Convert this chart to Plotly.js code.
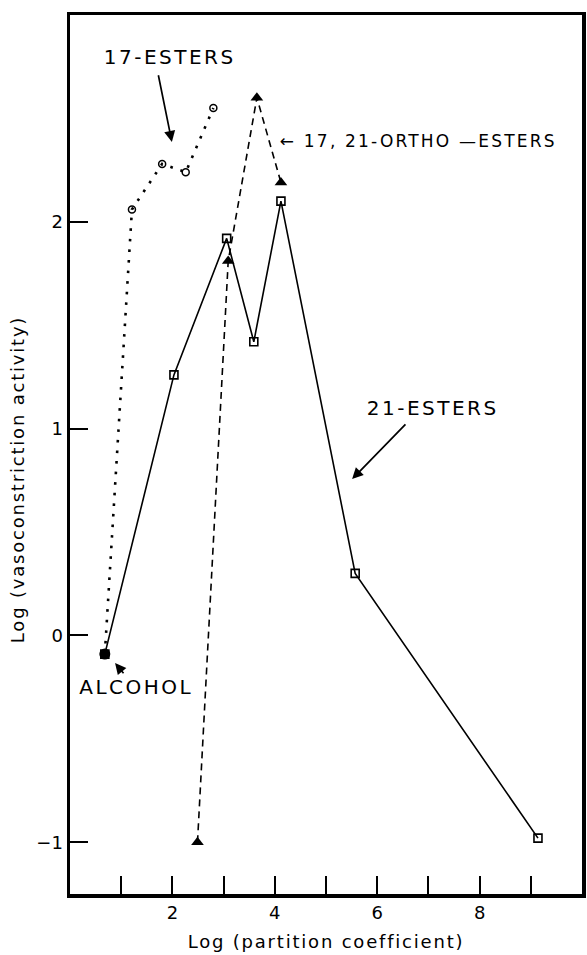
<!DOCTYPE html>
<html>
<head>
<meta charset="utf-8">
<script src="https://cdn.plot.ly/plotly-3.0.1.min.js"></script>
<style>
  html, body { margin: 0; padding: 0; background: #fff; }
  #chart { width: 587px; height: 955px; }
</style>
</head>
<body>
<div id="chart"></div>
<script>
// ---- data ----
const xEsters21 = [0.68, 2.03, 3.06, 3.59, 4.12, 5.57, 9.14];
const yEsters21 = [-0.09, 1.26, 1.92, 1.42, 2.10, 0.30, -0.98];

const xEsters17 = [0.68, 1.21, 1.80, 2.26, 2.80];
const yEsters17 = [-0.09, 2.06, 2.28, 2.24, 2.55];

const xOrtho = [2.49, 3.09, 3.65, 4.12];
const yOrtho = [-1.00, 1.81, 2.60, 2.19];

const xAlcohol = [0.68];
const yAlcohol = [-0.09];

const xTickVals = [1, 2, 3, 4, 5, 6, 7, 8, 9];
const xTickText = ['', '2', '', '4', '', '6', '', '8', ''];
const yTickVals = [-1, 0, 1, 2];
const yTickText = ['\u22121', '0', '1', '2'];

const labelEsters17 = '17-ESTERS';
const labelEsters21 = '21-ESTERS';
const labelOrtho = '\u2190 17, 21-ORTHO \u2014ESTERS';
const labelAlcohol = 'ALCOHOL';

const FONT = 'DejaVu Sans, sans-serif';
const LS = 2.5; // letter spacing (px) of the hand-lettered labels

const traces = [
  {
    x: xEsters21, y: yEsters21, type: 'scatter', mode: 'lines+markers',
    name: '21-esters',
    line: { color: '#000', width: 1.6 },
    marker: { symbol: 'square-open', size: 8, color: '#000', line: { width: 1.6 } }
  },
  {
    x: xEsters17, y: yEsters17, type: 'scatter', mode: 'lines+markers',
    name: '17-esters',
    line: { color: '#000', width: 2.6, dash: '2.6px,8px' },
    marker: { symbol: 'circle-open', size: 7, color: '#000', line: { width: 1.5 } }
  },
  {
    x: xOrtho, y: yOrtho, type: 'scatter', mode: 'lines+markers',
    name: '17,21-ortho-esters',
    line: { color: '#000', width: 1.6, dash: '7px,5px' },
    marker: { symbol: 'triangle-up', size: 11, color: '#000' }
  },
  {
    x: xAlcohol, y: yAlcohol, type: 'scatter', mode: 'markers',
    name: 'alcohol',
    marker: { symbol: 'circle', size: 11, color: '#000' }
  }
];

function label(x, y, text, size, ls) {
  return { x: x, y: y, xref: 'x', yref: 'y', text: text, showarrow: false,
    xanchor: 'left', yanchor: 'middle', xshift: text.length * ls / 2,
    font: { family: FONT, size: size, color: '#000' } };
}
function arrow(x, y, ax, ay) {
  return { x: x, y: y, ax: ax, ay: ay, axref: 'x', ayref: 'y', xref: 'x', yref: 'y',
    text: '', showarrow: true, arrowhead: 2, arrowsize: 1.3, arrowwidth: 1.7, arrowcolor: '#000' };
}

const layout = {
  width: 587, height: 955,
  margin: { l: 70, r: 5, t: 15, b: 61 },
  paper_bgcolor: '#fff', plot_bgcolor: '#fff',
  showlegend: false,
  font: { family: FONT, color: '#000' },
  xaxis: {
    range: [0, 10], showgrid: false, zeroline: false,
    showline: true, mirror: true, linecolor: '#000', linewidth: 3.5,
    ticks: 'inside', ticklen: 18, tickwidth: 2, tickcolor: '#000',
    tickmode: 'array', tickvals: xTickVals, ticktext: xTickText,
    tickfont: { family: FONT, size: 18, color: '#000' },
    title: { text: 'Log (partition coefficient)', font: { family: FONT, size: 18, color: '#000' }, standoff: 14 }
  },
  yaxis: {
    range: [-1.25, 3.0], showgrid: false, zeroline: false,
    showline: true, mirror: true, linecolor: '#000', linewidth: 3.5,
    ticks: 'inside', ticklen: 18, tickwidth: 2, tickcolor: '#000',
    tickmode: 'array', tickvals: yTickVals, ticktext: yTickText,
    tickfont: { family: FONT, size: 18, color: '#000' },
    title: { text: 'Log (vasoconstriction activity)', font: { family: FONT, size: 18, color: '#000' }, standoff: 8 }
  },
  annotations: [
    label(0.625, 2.797, labelEsters17, 20, LS),
    arrow(1.99, 2.386, 1.72, 2.716),
    label(4.06, 2.39, labelOrtho, 17, 2.2),
    label(5.76, 1.10, labelEsters21, 20, LS),
    arrow(5.51, 0.756, 6.58, 1.028),
    label(0.137, -0.25, labelAlcohol, 20, LS),
    arrow(0.88, -0.133, 1.07, -0.19)
  ]
};

Plotly.newPlot('chart', traces, layout, { staticPlot: true, displayModeBar: false }).then(function () {
  document.querySelectorAll('.annotation-text').forEach(function (t) {
    t.style.letterSpacing = (t.textContent.length > 12 ? 2.2 : LS) + 'px';
  });
  document.querySelectorAll('.g-xtitle text, .g-ytitle text').forEach(function (t) {
    t.style.letterSpacing = '1.8px';
  });
  // the reference's y title sits ~25px lower than the plot centre
  var yt = document.querySelector('.g-ytitle text');
  if (yt) {
    var tx = parseFloat(yt.getAttribute('x'));
    var ty = parseFloat(yt.getAttribute('y')) + 25;
    yt.setAttribute('y', ty);
    yt.setAttribute('transform', 'rotate(-90,' + tx + ',' + ty + ')');
  }
});
</script>
</body>
</html>
